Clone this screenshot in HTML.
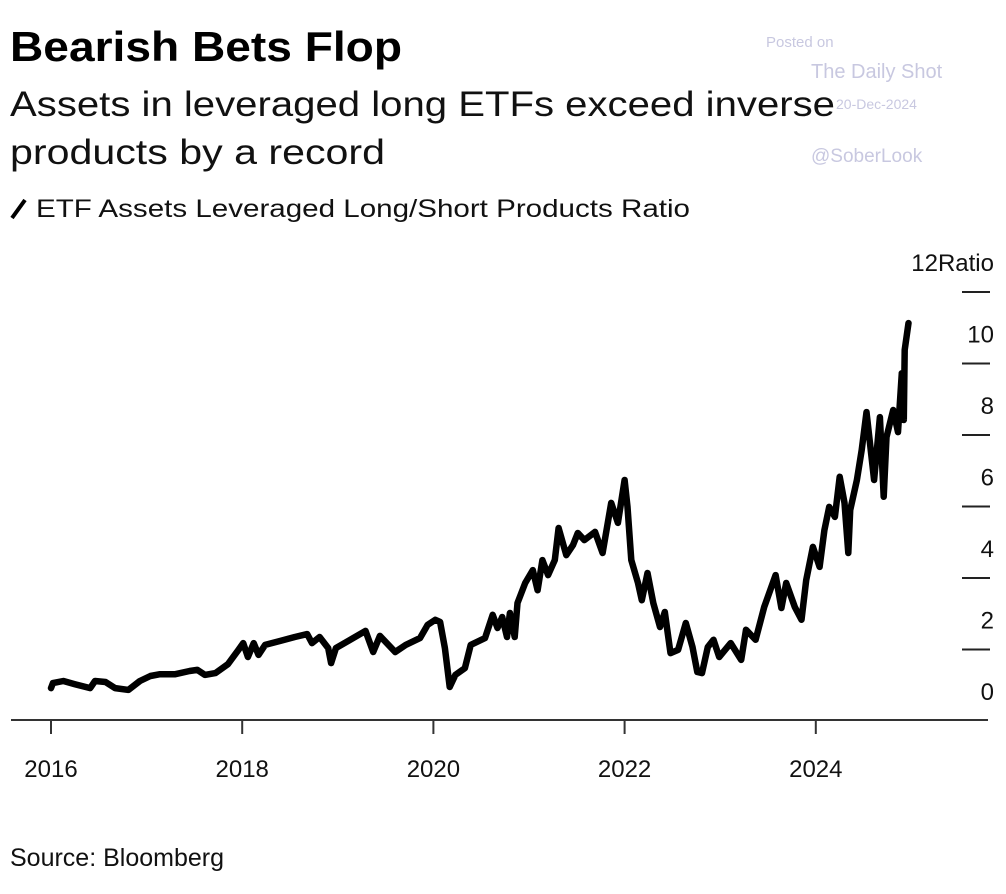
<!DOCTYPE html>
<html><head><meta charset="utf-8"><style>
html,body{margin:0;padding:0;background:#fff;}
svg{display:block;font-family:"Liberation Sans",sans-serif;}
</style></head><body>
<svg width="1006" height="894" viewBox="0 0 1006 894">
<text x="10" y="61" font-size="42" font-weight="bold" fill="#000" textLength="392" lengthAdjust="spacingAndGlyphs">Bearish Bets Flop</text>
<text x="10" y="116" font-size="35" fill="#111" textLength="825" lengthAdjust="spacingAndGlyphs">Assets in leveraged long ETFs exceed inverse</text>
<text x="10" y="164" font-size="35" fill="#111" textLength="375" lengthAdjust="spacingAndGlyphs">products by a record</text>
<line x1="12" y1="218" x2="25" y2="200" stroke="#000" stroke-width="4"/>
<text x="36" y="217" font-size="25" fill="#111" textLength="654" lengthAdjust="spacingAndGlyphs">ETF Assets Leveraged Long/Short Products Ratio</text>
<g fill="#c8c8e0">
<text x="766" y="47" font-size="15">Posted on</text>
<text x="811" y="78" font-size="20">The Daily Shot</text>
<text x="836" y="109" font-size="14">20-Dec-2024</text>
<text x="811" y="162" font-size="19">@SoberLook</text>
</g>
<g id="yaxis"></g>
<g id="xaxis"></g>
<path id="line" fill="none" stroke="#000" stroke-width="6.5" stroke-linejoin="round" stroke-linecap="round"/>
<text x="10" y="866" font-size="25" fill="#111">Source: Bloomberg</text>
</svg>
<script>
const yTicks=[0,2,4,6,8,10,12];
const xTicks=[2016,2018,2020,2022,2024];
const dates=[2016.0,2016.02,2016.13,2016.25,2016.41,2016.46,2016.57,2016.67,2016.81,2016.93,2017.04,2017.14,2017.30,2017.45,2017.53,2017.61,2017.72,2017.85,2017.96,2018.01,2018.06,2018.12,2018.17,2018.24,2018.40,2018.55,2018.68,2018.73,2018.81,2018.90,2018.93,2018.98,2019.13,2019.29,2019.37,2019.44,2019.60,2019.71,2019.86,2019.94,2020.02,2020.07,2020.12,2020.17,2020.23,2020.33,2020.39,2020.54,2020.62,2020.67,2020.72,2020.77,2020.80,2020.85,2020.88,2020.96,2021.04,2021.09,2021.14,2021.20,2021.27,2021.31,2021.39,2021.46,2021.51,2021.58,2021.69,2021.77,2021.86,2021.93,2022.0,2022.03,2022.07,2022.14,2022.18,2022.24,2022.30,2022.37,2022.42,2022.48,2022.56,2022.64,2022.71,2022.76,2022.81,2022.87,2022.93,2022.99,2023.11,2023.22,2023.27,2023.37,2023.46,2023.58,2023.64,2023.69,2023.78,2023.85,2023.90,2023.97,2024.04,2024.09,2024.14,2024.20,2024.25,2024.30,2024.34,2024.36,2024.43,2024.48,2024.53,2024.61,2024.67,2024.71,2024.74,2024.81,2024.86,2024.90,2024.92,2024.93,2024.97];
const ratio=[0.92,1.06,1.12,1.03,0.92,1.12,1.09,0.92,0.87,1.12,1.26,1.31,1.31,1.40,1.43,1.29,1.34,1.59,1.99,2.18,1.79,2.18,1.85,2.13,2.24,2.35,2.43,2.18,2.35,2.04,1.62,2.04,2.27,2.52,1.93,2.38,1.93,2.13,2.32,2.69,2.83,2.77,2.04,0.95,1.29,1.48,2.13,2.32,2.97,2.60,2.91,2.35,3.02,2.35,3.30,3.86,4.22,3.66,4.50,4.08,4.50,5.40,4.64,4.92,5.26,5.06,5.29,4.70,6.10,5.54,6.74,5.99,4.50,3.86,3.38,4.14,3.30,2.63,3.05,1.90,1.99,2.74,2.07,1.37,1.34,2.07,2.27,1.79,2.18,1.71,2.55,2.27,3.19,4.08,3.16,3.86,3.19,2.83,3.94,4.87,4.31,5.34,5.99,5.71,6.83,6.10,4.70,5.90,6.74,7.58,8.64,6.74,8.50,6.27,7.94,8.70,8.08,9.73,8.42,10.38,11.13];
const NS="http://www.w3.org/2000/svg";
const xS=t=>51+95.6*(t-2016);
const yS=v=>721-35.75*v;
const ya=document.getElementById('yaxis'),xa=document.getElementById('xaxis');
yTicks.forEach(v=>{
  if(v>0){const l=document.createElementNS(NS,'line');
  
  
  l.setAttribute('x1',962);l.setAttribute('x2',990);l.setAttribute('y1',yS(v));l.setAttribute('y2',yS(v));
  l.setAttribute('stroke','#222');l.setAttribute('stroke-width','2');ya.appendChild(l);}
  const t=document.createElementNS(NS,'text');
  
  
  t.setAttribute('x',994);t.setAttribute('y',yS(v)-21);t.setAttribute('text-anchor','end');
  t.setAttribute('font-size','24');t.setAttribute('fill','#111');
  t.textContent=v===12?'12Ratio':String(v);ya.appendChild(t);
});
const ax=document.createElementNS(NS,'line');


ax.setAttribute('x1',11);ax.setAttribute('x2',988);ax.setAttribute('y1',720);ax.setAttribute('y2',720);
ax.setAttribute('stroke','#333');ax.setAttribute('stroke-width','2');xa.appendChild(ax);
xTicks.forEach(y=>{
  const l=document.createElementNS(NS,'line');
  
  
  l.setAttribute('x1',xS(y));l.setAttribute('x2',xS(y));l.setAttribute('y1',720);l.setAttribute('y2',734);
  l.setAttribute('stroke','#333');l.setAttribute('stroke-width','2');xa.appendChild(l);
  const t=document.createElementNS(NS,'text');
  
  
  t.setAttribute('x',xS(y));t.setAttribute('y',777);t.setAttribute('text-anchor','middle');
  t.setAttribute('font-size','24');t.setAttribute('fill','#111');t.textContent=y;xa.appendChild(t);
});
document.getElementById('line').setAttribute('d',dates.map((d,i)=>(i?'L':'M')+xS(d).toFixed(1)+','+yS(ratio[i]).toFixed(1)).join(''));
</script>
</body></html>
